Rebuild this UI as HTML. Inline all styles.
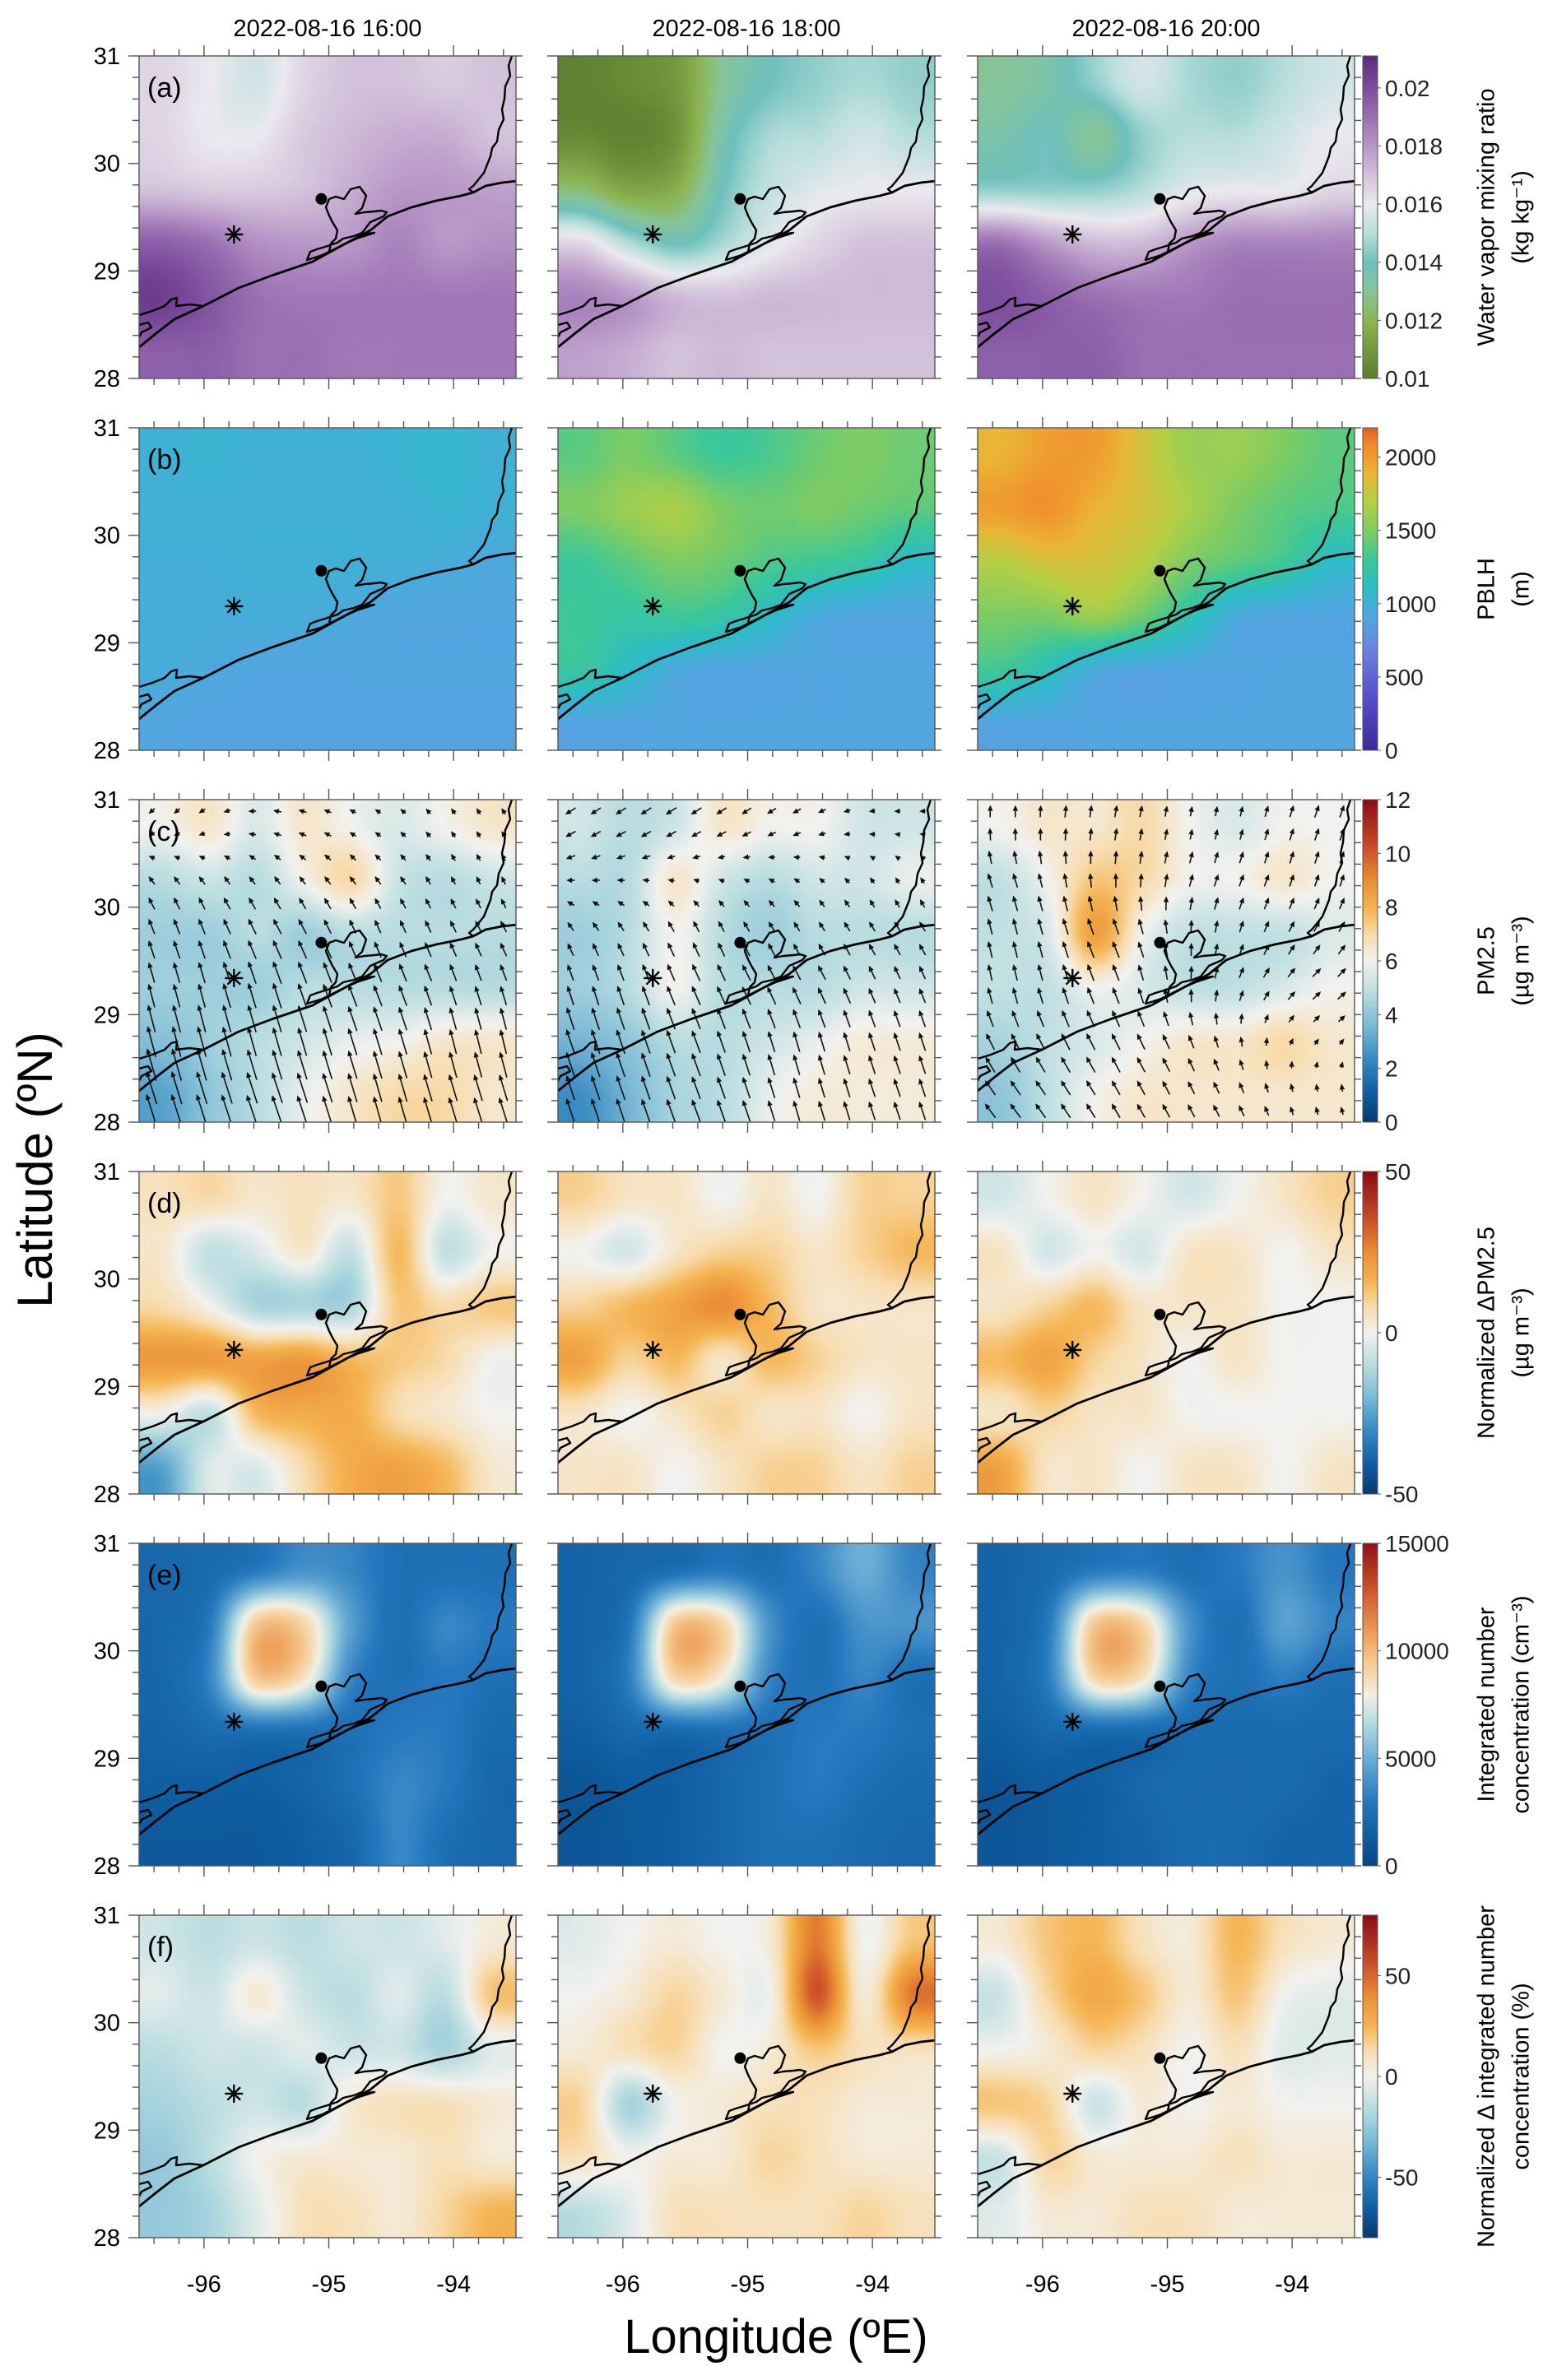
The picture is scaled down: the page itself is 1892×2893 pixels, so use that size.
<!DOCTYPE html>
<html><head><meta charset="utf-8">
<style>
html,body{margin:0;padding:0;background:#fff;}
#root{position:relative;width:1892px;height:2893px;overflow:hidden;background:#fff;font-family:"Liberation Sans",Arial,sans-serif;}
canvas{position:absolute;}
#overlay{position:absolute;left:0;top:0;}
</style></head>
<body>
<div id="root">
<svg id="overlay" width="1892" height="2893" xmlns="http://www.w3.org/2000/svg"></svg>
</div>
<script>
// ---------------- DATA (8 cols lon -96.5..-93.5, 6 rows lat 31..28) ----------------
const times = ["2022-08-16 16:00","2022-08-16 18:00","2022-08-16 20:00"];
const lonTicks = [-96,-95,-94];
const latTicks = [28,29,30,31];

const qv_16=[[.0165,.016,.0155,.0165,.017,.017,.0168,.017],[.0165,.016,.016,.0168,.0172,.0175,.0175,.017],[.017,.0168,.0168,.017,.0175,.018,.018,.0178],[.0195,.019,.0182,.018,.018,.0185,.018,.0182],[.0205,.0198,.019,.0188,.0188,.0188,.0188,.0188],[.0195,.0195,.019,.019,.0188,.0188,.0188,.0188]];
const qv_18=[[.0102,.0105,.011,.013,.014,.0145,.0148,.0145],[.0105,.0102,.0108,.0135,.0148,.015,.0155,.015],[.0125,.0115,.0118,.014,.0152,.0158,.016,.016],[.0165,.015,.014,.0148,.0158,.0165,.017,.017],[.0185,.018,.0172,.017,.0172,.0172,.0172,.0172],[.0178,.0175,.017,.0172,.017,.017,.017,.017]];
const qv_20=[[.013,.0135,.0145,.0155,.0148,.0145,.015,.0155],[.0135,.014,.013,.0145,.015,.015,.0155,.016],[.0145,.0145,.0145,.015,.0158,.016,.016,.0165],[.019,.018,.0172,.0172,.018,.0185,.0185,.0185],[.020,.0195,.019,.0188,.0188,.019,.019,.019],[.0195,.0195,.0195,.019,.019,.019,.019,.019]];

const pblh_16=[[1000,1030,1000,1000,1000,1030,1050,1000],[1000,1000,1000,1000,1000,1000,1030,1000],[980,980,1000,1000,1000,980,960,930],[960,960,960,960,930,900,900,900],[960,930,900,900,900,900,900,900],[900,880,880,880,880,880,880,880]];
const pblh_18=[[1400,1500,1400,1300,1350,1450,1500,1450],[1500,1600,1650,1500,1450,1500,1450,1400],[1300,1400,1500,1450,1350,1300,1250,1100],[1300,1250,1300,1250,1100,950,900,900],[1250,1100,950,900,900,900,900,900],[900,900,900,900,900,900,900,900]];
const pblh_20=[[1900,2000,2000,1800,1600,1600,1500,1400],[2000,2050,1900,1800,1650,1500,1400,1350],[1700,1800,1800,1700,1500,1400,1300,1100],[1500,1500,1600,1450,1200,950,900,900],[1300,1150,950,900,900,900,900,900],[900,900,900,900,900,900,900,900]];

const pm_16=[[6,6.5,5.5,6.5,6,5.5,6,6.5],[4.8,5.2,4.8,6,7,5.2,4.8,5.2],[4.3,4.3,4.8,4.3,4.8,4.8,4.8,4.8],[4.3,4.3,4.3,4.8,4.8,4.8,4.8,4.8],[3.8,4.3,4.8,5.3,5.8,6,6.5,6.5],[3,4,4.8,5.8,6.5,7,7,6.5]];
const pm_18=[[5.3,4.8,5.3,6.5,6,6,5.3,5.3],[4.8,4.8,6.5,5.3,4.8,5.3,5.3,5.8],[4.3,4.8,6,4.8,4.3,4.8,4.8,4.8],[4.3,4.8,6,4.8,4.8,4.8,5.3,5.3],[3.5,4,4.8,4.8,5.3,5.8,6.3,6.3],[2.5,3.5,4.5,4.8,5.8,6.3,6.3,6.3]];
const pm_20=[[6,6.5,6.5,7,6,5.5,6,6],[5,6,7.5,7,6,6,6.5,6],[5,5.5,8.5,6,5,5,5,5.5],[5,5,6,5.5,5,5,5.5,6],[4.5,5,5.5,6,6.5,6.5,7,6.5],[4,5,6,6.5,6.5,6.5,6.5,6.5]];

const windU_16=[[-.3,-.4,-.3,-.2],[-.3,-.3,-.3,-.2],[-.3,-.4,-.3,-.3],[-.3,-.4,-.4,-.3],[-.4,-.4,-.4,-.3],[-.5,-.5,-.4,-.4]];
const windV_16=[[-.2,.1,.2,.3],[.4,.4,.4,.4],[.8,.8,.7,.6],[1.1,1.2,1.0,.9],[1.5,1.4,1.3,1.2],[1.6,1.5,1.4,1.3]];
const windU_18=[[-.5,-.5,-.4,-.3],[-.4,-.3,-.3,-.2],[-.3,-.3,-.3,-.3],[-.3,-.4,-.4,-.3],[-.4,-.4,-.3,-.3],[-.4,-.4,-.3,-.3]];
const windV_18=[[-.3,-.3,-.2,0],[0,.1,.2,.3],[.5,.6,.5,.5],[.9,.9,.8,.7],[1.2,1.1,1.0,.9],[1.2,1.1,1.0,.9]];
const windU_20=[[0,.1,.1,.2],[-.2,0,.2,.2],[-.2,-.3,.1,.3],[-.2,-.3,.1,.4],[-.4,-.4,-.2,.2],[-.5,-.4,-.3,-.1]];
const windV_20=[[.6,.6,.5,.6],[.7,.7,.6,.6],[.8,.8,.6,.5],[.8,.8,.6,.4],[.8,.8,.6,.3],[.7,.7,.6,.4]];

const dpm_16=[[6,8,4,6,4,12,0,4],[4,-8,-4,4,-8,15,-8,0],[8,0,-12,-12,-12,12,8,12],[22,22,20,22,15,12,8,0],[0,-8,15,18,18,8,4,0],[-25,-4,-4,8,18,20,15,4]];
const dpm_18=[[10,5,5,0,5,0,10,10],[0,-5,5,10,10,5,10,15],[10,15,20,25,15,5,5,5],[20,10,15,5,15,10,5,5],[5,0,5,10,5,5,0,5],[5,5,0,5,10,10,5,10]];
const dpm_20=[[-5,0,5,0,-5,0,5,10],[5,-5,0,-5,5,5,0,5],[5,10,15,5,5,5,0,0],[15,20,10,5,0,5,0,0],[5,10,5,5,0,0,0,0],[20,5,5,0,5,5,0,5]];

const num_16=[[2000,2200,3000,4000,3500,2500,2500,2500],[2000,3000,9500,9000,4500,2500,3500,3000],[2000,3500,9500,8500,3500,2500,3000,2500],[1800,2200,2500,2500,2500,3000,3000,2200],[1500,1500,1500,1800,2500,3500,3000,2000],[1200,1200,1200,1500,2000,3500,2500,2000]];
const num_18=[[1800,2000,2500,3000,2500,3500,5000,3500],[1800,2800,9500,9000,4000,2500,4000,4000],[1800,3200,9000,8000,3500,2500,3500,2500],[1500,2000,2200,2500,2500,3000,3000,2500],[1000,1300,1500,2000,2500,3000,2500,2200],[1000,1200,1500,2000,2500,2500,2200,2000]];
const num_20=[[1800,2200,3000,3200,2500,3000,4000,3000],[1800,3000,9500,9000,4000,2500,4500,3500],[1800,3200,9000,8500,3500,2500,3200,2500],[1500,2000,2200,2200,2200,2200,2200,2200],[1000,1300,1500,2000,2200,2200,2200,1800],[1000,1200,1500,1800,2200,2200,1800,1800]];

const dnum_16=[[-10,-15,-10,-15,-10,-10,-5,5],[-5,-10,5,-10,-15,-5,-15,20],[-15,-10,-10,-5,-10,-10,-20,-5],[-20,-15,-10,-15,5,10,10,5],[-25,-15,0,5,5,5,10,5],[-25,-20,-5,10,10,5,15,25]];
const dnum_18=[[-5,0,5,0,5,45,0,20],[0,5,15,5,0,55,5,45],[5,10,15,0,5,20,10,10],[15,-20,0,5,10,10,5,5],[10,0,5,5,15,10,5,5],[-15,-5,10,10,10,10,15,10]];
const dnum_20=[[5,20,25,10,5,25,10,5],[-10,15,30,20,5,20,0,-5],[0,5,15,10,0,10,-5,-5],[20,15,-10,5,0,5,0,0],[-10,15,5,5,5,10,5,5],[-5,5,5,10,10,5,5,5]];

const fields=[[qv_16,qv_18,qv_20],[pblh_16,pblh_18,pblh_20],[pm_16,pm_18,pm_20],[dpm_16,dpm_18,dpm_20],[num_16,num_18,num_20],[dnum_16,dnum_18,dnum_20]];
const winds=[[windU_16,windV_16],[windU_18,windV_18],[windU_20,windV_20]];
const ranges=[[0.01,0.0211],[0,2200],[0,12],[-50,50],[0,15000],[-80,80]];
const cbTicks=[[0.01,0.012,0.014,0.016,0.018,0.02],[0,500,1000,1500,2000],[0,2,4,6,8,10,12],[-50,0,50],[0,5000,10000,15000],[-50,0,50]];
const cbTickLabels=[["0.01","0.012","0.014","0.016","0.018","0.02"],["0","500","1000","1500","2000"],["0","2","4","6","8","10","12"],["-50","0","50"],["0","5000","10000","15000"],["-50","0","50"]];
const cbTitles=[["Water vapor mixing ratio","(kg kg\u207B\u00B9)"],["PBLH","(m)"],["PM2.5","(\u00B5g m\u207B\u00B3)"],["Normalized \u0394PM2.5","(\u00B5g m\u207B\u00B3)"],["Integrated number","concentration (cm\u207B\u00B3)"],["Normalized \u0394 integrated number","concentration (%)"]];
const panelLetters=["(a)","(b)","(c)","(d)","(e)","(f)"];
const siteDot=[-95.06,29.67];
const siteStar=[-95.76,29.34];

// ---------------- colormaps ----------------
const cmPRGn=[[0,"#5c7d2e"],[0.18,"#8db552"],[0.27,"#86c49a"],[0.36,"#6fc0bd"],[0.45,"#b8dedb"],[0.54,"#ebe9ee"],[0.63,"#d3c2db"],[0.72,"#b997c8"],[0.81,"#9a70b2"],[0.9,"#7f4f9f"],[1,"#5e2a7c"]];
const cmPBLH=[[0,"#3b2a9c"],[0.18,"#5a52d0"],[0.32,"#6c85e0"],[0.41,"#52a6e0"],[0.5,"#2dbcc8"],[0.59,"#3cc79a"],[0.68,"#7ccc66"],[0.77,"#b5cf45"],[0.86,"#eab535"],[0.95,"#f28a2c"],[1,"#e0602a"]];
const cmDiv=[[0,"#08396b"],[0.1,"#135fa8"],[0.2,"#3a8cc4"],[0.3,"#7bbad6"],[0.4,"#b8dce0"],[0.5,"#f2f1ee"],[0.58,"#f8dcae"],[0.66,"#f5b452"],[0.75,"#ea8f34"],[0.85,"#cc4e2a"],[1,"#8a0b14"]];
const cmNum=[[0,"#08457f"],[0.1,"#0f5fa3"],[0.2,"#2679bf"],[0.33,"#69acd6"],[0.45,"#b9dde3"],[0.53,"#f3efe4"],[0.62,"#f6cf9a"],[0.72,"#eea05a"],[0.85,"#d2562e"],[1,"#8e1016"]];
const cmaps=[cmPRGn,cmPBLH,cmDiv,cmDiv,cmNum,cmDiv];

function hex(h){return [parseInt(h.substr(1,2),16),parseInt(h.substr(3,2),16),parseInt(h.substr(5,2),16)];}
const cmapsRGB=cmaps.map(cm=>cm.map(s=>[s[0],hex(s[1])]));
function colorAt(cm,t){if(t<=0)return cm[0][1];if(t>=1)return cm[cm.length-1][1];
 for(let i=1;i<cm.length;i++){if(t<=cm[i][0]){const a=cm[i-1],b=cm[i];const f=(t-a[0])/(b[0]-a[0]);
  return [a[1][0]+(b[1][0]-a[1][0])*f,a[1][1]+(b[1][1]-a[1][1])*f,a[1][2]+(b[1][2]-a[1][2])*f];}}return cm[cm.length-1][1];}

// ---------------- geometry ----------------
const LEFTS=[169,678,1188], PW=458, PH=392;
function panelTop(r){return 68+r*452;}
const LON0=-96.52, LON1=-93.5, LAT0=28, LAT1=31;
function xOf(c,lon){return LEFTS[c]+(lon-LON0)/(LON1-LON0)*PW;}
function yOf(r,lat){return panelTop(r)+(LAT1-lat)/(LAT1-LAT0)*PH;}

function cr(p0,p1,p2,p3,t){return p1+0.5*t*(p2-p0+t*(2*p0-5*p1+4*p2-p3+t*(3*(p1-p2)+p3-p0)));}
function sample(g,gx,gy){const R=g.length,C=g[0].length;
 const ix=Math.floor(gx),iy=Math.floor(gy),fx=gx-ix,fy=gy-iy;const rows=[];
 for(let j=-1;j<=2;j++){const rr=Math.min(R-1,Math.max(0,iy+j));const row=g[rr];
  const v=[];for(let i=-1;i<=2;i++){v.push(row[Math.min(C-1,Math.max(0,ix+i))]);}
  rows.push(cr(v[0],v[1],v[2],v[3],fx));}
 return cr(rows[0],rows[1],rows[2],rows[3],fy);}

const root=document.getElementById('root');
const svg=document.getElementById('overlay');
const NS='http://www.w3.org/2000/svg';
function mk(tag,attrs,parent){const e=document.createElementNS(NS,tag);for(const k in attrs)e.setAttribute(k,attrs[k]);(parent||svg).appendChild(e);return e;}
function txt(attrs,s,parent){const e=mk('text',attrs,parent);e.textContent=s;return e;}

// ---------------- fields ----------------
for(let r=0;r<6;r++){for(let c=0;c<3;c++){
 const cv=document.createElement('canvas');cv.width=PW;cv.height=PH;
 cv.style.left=LEFTS[c]+'px';cv.style.top=panelTop(r)+'px';
 
 
 root.insertBefore(cv,svg);
 const ctx=cv.getContext('2d');const img=ctx.createImageData(PW,PH);const g=fields[r][c];
 const C=g[0].length,R=g.length;const[vmin,vmax]=ranges[r];const cm=cmapsRGB[r];
 for(let y=0;y<PH;y++){const gy=(y+0.5)/PH*R-0.5;for(let x=0;x<PW;x++){const gx=(x+0.5)/PW*C-0.5;
  const v=sample(g,gx,gy);const col=colorAt(cm,(v-vmin)/(vmax-vmin));const k=(y*PW+x)*4;
  img.data[k]=col[0];img.data[k+1]=col[1];img.data[k+2]=col[2];img.data[k+3]=255;}}
 ctx.putImageData(img,0,0);
}}
// colorbars
for(let r=0;r<6;r++){
 const cv=document.createElement('canvas');cv.width=18;cv.height=PH;cv.style.left='1656px';cv.style.top=panelTop(r)+'px';
 
 
 root.insertBefore(cv,svg);
 const ctx=cv.getContext('2d');
 for(let y=0;y<PH;y++){const col=colorAt(cmapsRGB[r],1-(y+0.5)/PH);ctx.fillStyle='rgb('+col.map(Math.round).join(',')+')';ctx.fillRect(0,y,18,1);}
}

// ---------------- overlay ----------------
const coastMain=[[169,422],[190,405],[212,388],[247,372],[290,350],[330,335],[380,318],[420,296],[450,280],[471,263],[500,252],[530,244],[560,238],[575,234],[590,226],[610,222],[628,220]];
const sabine=[[622,68],[618,80],[620,92],[614,105],[613,120],[610,133],[612,145],[606,158],[604,172],[598,180],[596,190],[592,200],[588,210],[580,220],[575,226],[570,230],[575,234]];
const bay=[[400,242],[408,239],[418,242],[426,230],[437,227],[445,238],[440,253],[432,260],[443,258],[455,257],[463,256],[470,258],[466,263],[450,270],[440,283],[430,287],[417,290],[410,295],[395,300],[385,303],[377,306],[373,316],[383,313],[392,310],[400,306],[402,296],[408,290],[410,280],[404,270],[400,262],[396,252],[400,242]];
const island=[[383,316],[420,296],[447,284],[455,283],[430,291],[400,306],[385,314]];
const matagorda=[[169,383],[185,378],[200,372],[208,364],[215,362],[214,372],[230,370],[247,372]];
const matagorda2=[[169,395],[180,392],[184,398],[172,404],[169,410]];

function mapPath(r,c,pts,closed){const sx=PW/458,sy=PH/392;
 let d='';pts.forEach((p,i)=>{const x=LEFTS[c]+(p[0]-169)*sx,y=panelTop(r)+(p[1]-68)*sy;d+=(i?'L':'M')+x.toFixed(1)+' '+y.toFixed(1);});
 return d+(closed?'Z':'');}

for(let r=0;r<6;r++){for(let c=0;c<3;c++){
 const L=LEFTS[c],T=panelTop(r);
 const g=mk('g',{});
 
 
 const clip=mk('clipPath',{id:'cl'+r+c},g);mk('rect',{x:L,y:T,width:PW,height:PH},clip);
 const gc=mk('g',{'clip-path':'url(#cl'+r+c+')'},g);
 if(r===2){const U=winds[c][0],V=winds[c][1];const ag=mk('g',{stroke:'#111','stroke-width':1.6,fill:'#111'},gc);
  
  
  const nx=15,ny=14;for(let j=0;j<ny;j++){for(let i=0;i<nx;i++){
   const px=L+(i+0.5)*PW/nx,py=T+(j+0.5)*PH/ny;
   const gx=(i+0.5)/nx*4-0.5,gy=(j+0.5)/ny*6-0.5;
   const u=sample(U,gx,gy),v=sample(V,gx,gy);const s=25;
   const dx=u*s,dy=-v*s;const x0=px-dx/2,y0=py-dy/2,x1=px+dx/2,y1=py+dy/2;
   const len=Math.hypot(dx,dy);if(len<2)continue;const ux=dx/len,uy=dy/len;
   mk('line',{x1:x0.toFixed(1),y1:y0.toFixed(1),x2:(x1-ux*4).toFixed(1),y2:(y1-uy*4).toFixed(1)},ag);
   const hx=x1-ux*7,hy=y1-uy*7;
   mk('polygon',{points:[x1,y1,hx-uy*3.2,hy+ux*3.2,hx+uy*3.2,hy-ux*3.2].map(v=>v.toFixed(1)).join(' '),stroke:'none'},ag);
  }}}
 const cg=mk('g',{fill:'none',stroke:'#000','stroke-width':2.4,'stroke-linejoin':'round'},gc);
 
 
 mk('path',{d:mapPath(r,c,coastMain,false),'stroke-width':2.8},cg);
 mk('path',{d:mapPath(r,c,sabine,false)},cg);
 mk('path',{d:mapPath(r,c,bay,true)},cg);
 mk('path',{d:mapPath(r,c,island,true)},cg);
 mk('path',{d:mapPath(r,c,matagorda,false)},cg);
 mk('path',{d:mapPath(r,c,matagorda2,false)},cg);
 const dot=mk('circle',{cx:xOf(c,siteDot[0]),cy:yOf(r,siteDot[1]),r:7,fill:'#000'},g);
 
 
 const sx=xOf(c,siteStar[0]),sy=yOf(r,siteStar[1]);
 const st=mk('g',{stroke:'#000','stroke-width':2.4},g);
 
 
 for(let k=0;k<4;k++){const a=k*Math.PI/4+Math.PI/2;mk('line',{x1:sx+Math.cos(a)*11,y1:sy+Math.sin(a)*11,x2:sx-Math.cos(a)*11,y2:sy-Math.sin(a)*11},st);}
 const fr=mk('rect',{x:L,y:T,width:PW,height:PH,fill:'none',stroke:'#555','stroke-width':1.4},g);
 
 
 const tg=mk('g',{stroke:'#555','stroke-width':1.4},g);
 
 
 for(let k=-96.4;k<=-93.5;k+=0.2){const lon=Math.round(k*10)/10;const x=xOf(c,lon);const major=Math.abs(lon-Math.round(lon))<1e-6;const l=major?13:8;
  mk('line',{x1:x,y1:T,x2:x,y2:T-l},tg);mk('line',{x1:x,y1:T+PH,x2:x,y2:T+PH+l},tg);}
 for(let k=28;k<=31.001;k+=0.2){const lat=Math.round(k*10)/10;const y=yOf(r,lat);const major=Math.abs(lat-Math.round(lat))<1e-6;
  mk('line',{x1:L,y1:y,x2:L-(major?13:8),y2:y},tg);mk('line',{x1:L+PW,y1:y,x2:L+PW+8,y2:y},tg);}
 if(c===0){
  const lt=txt({x:L+10,y:T+50,'font-size':34,fill:'#000'},panelLetters[r],g);
  
  
  latTicks.forEach(lat=>{const t=txt({x:146,y:yOf(r,lat)+10,'font-size':29,'text-anchor':'end',fill:'#000'},String(lat),g);
   
   });
 }
 if(r===5){lonTicks.forEach(lon=>{const t=txt({x:xOf(c,lon),y:2786,'font-size':29,'text-anchor':'middle',fill:'#000'},String(lon),g);
  
  });}
}}
times.forEach((s,c)=>{const t=txt({x:LEFTS[c]+PW/2,y:44,'font-size':29,'text-anchor':'middle',fill:'#000'},s);
 
 });
for(let r=0;r<6;r++){const T=panelTop(r);const[vmin,vmax]=ranges[r];
 const f=mk('rect',{x:1656,y:T,width:18,height:PH,fill:'none',stroke:'#555','stroke-width':1});
 
 
 cbTicks[r].forEach((v,i)=>{const y=T+PH-(v-vmin)/(vmax-vmin)*PH;
  mk('line',{x1:1674,y1:y,x2:1678,y2:y,stroke:'#555','stroke-width':1});
  const t=txt({x:1683,y:y+10,'font-size':28,fill:'#222'},cbTickLabels[r][i]);
  
  });
 const cy=T+PH/2;const lines=cbTitles[r];const xs=[1808,1850];
 lines.forEach((s,i)=>{const x=xs[i];const t=txt({x:x,y:cy,'font-size':29,'text-anchor':'middle',fill:'#000',transform:'rotate(-90 '+x+' '+cy+')','dominant-baseline':'middle'},s);
  
  });
}
const yl=txt({x:47,y:1422,'font-size':60,'text-anchor':'middle','dominant-baseline':'middle',fill:'#000',transform:'rotate(-90 47 1422)'},"Latitude (\u00BAN)");


const xl=txt({x:943,y:2860,'font-size':58,'text-anchor':'middle',fill:'#000'},"Longitude (\u00BAE)");


</script>
</body></html>
